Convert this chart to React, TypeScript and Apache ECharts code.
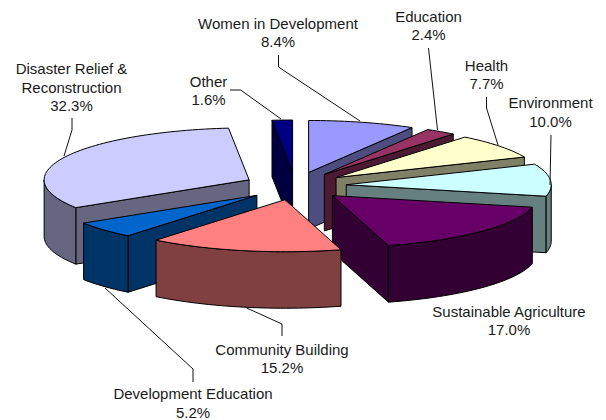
import React, { useEffect, useRef } from "react";
import * as echarts from "echarts";

// ---- data ----
const categories = [
  "Women in Development",
  "Education",
  "Health",
  "Environment",
  "Sustainable Agriculture",
  "Community Building",
  "Development Education",
  "Disaster Relief &\nReconstruction",
  "Other",
];
const shares = [8.4, 2.4, 7.7, 10.0, 17.0, 15.2, 5.2, 32.3, 1.6];

// ---- style ----
const topColors = ["#9999FF", "#993366", "#FFFFCC", "#CCFFFF", "#660066", "#FF8080", "#0066CC", "#CCCCFF", "#000080"];
const sideColors = ["#4D4D80", "#4D1A33", "#808066", "#668080", "#330033", "#804040", "#003366", "#666680", "#000040"];
const drawOrder = [8, 0, 1, 2, 3, 4, 7, 6, 5];

// ---- layout ----
const CX = 295.2;
const CY = 186;
const RX = 205;
const RY = 52;
const DEPTH = 56.5;
const EXPLODE_X = 51.25;
const EXPLODE_Y = 14;
const labelAnchors: number[][] = [
  [278, 32.5], [428.5, 25.5], [486.5, 74.5], [550.5, 112], [509, 320.5],
  [282, 358.5], [193, 403], [71.5, 87], [208.5, 90.5],
];
const leaders: number[][][] = [
  [[278.5, 55], [278.5, 67], [360, 121]],
  [[428.5, 48], [437.5, 130]],
  [[486.5, 97], [486.5, 108], [498, 145]],
  [[551, 135], [550, 185]],
  [],
  [[282, 336], [282, 324], [246.7, 308]],
  [[193, 382], [193, 369], [105, 288]],
  [[72, 118], [72, 130], [64, 156]],
  [[230, 90], [240.7, 90], [281, 119]],
];

const total = shares.reduce((a, b) => a + b, 0);
const toRad = (share: number) => (share / total) * Math.PI * 2;

function sliceChildren(i: number) {
  const before = shares.slice(0, i).reduce((a, b) => a + b, 0);
  const start = toRad(before);
  const end = start + toRad(shares[i]);
  const mid = (start + end) / 2;
  const ax = CX + EXPLODE_X * Math.sin(mid);
  const ay = CY - EXPLODE_Y * Math.cos(mid);
  const at = (t: number) => [ax + RX * Math.sin(t), ay - RY * Math.cos(t)];
  const down = (p: number[]) => [p[0], p[1] + DEPTH];
  const arc = (a: number, b: number) => {
    const n = Math.max(2, Math.ceil((b - a) / 0.03));
    const out: number[][] = [];
    for (let k = 0; k <= n; k++) out.push(at(a + ((b - a) * k) / n));
    return out;
  };
  const edge = { stroke: "#000", lineWidth: 1, lineJoin: "round" };
  const side = { ...edge, fill: sideColors[i] };
  const apex = [ax, ay];
  const children: any[] = [];
  const wall = (pts: number[][]) =>
    children.push({
      type: "polygon",
      shape: { points: [...pts, ...pts.slice().reverse().map(down)] },
      style: side,
    });
  // only the faces turned to the viewer
  if (Math.sin(start) < -1e-6) wall([apex, at(start)]);
  if (Math.sin(end) > 1e-6) wall([at(end), apex]);
  const a = Math.max(start, Math.PI / 2);
  const b = Math.min(end, (Math.PI * 3) / 2);
  if (b > a) wall(arc(a, b));
  children.push({
    type: "polygon",
    shape: { points: [apex, ...arc(start, end)] },
    style: { ...edge, fill: topColors[i] },
  });
  return children;
}

const seriesData = drawOrder.map((i) => ({ name: categories[i], value: [i, shares[i]] }));

export default function App() {
  const ref = useRef<HTMLDivElement>(null);
  useEffect(() => {
    const chart = echarts.init(ref.current!, undefined, { renderer: "svg" });
    chart.setOption({
      animation: false,
      backgroundColor: "#fff",
      graphic: [
        ...leaders
          .filter((l) => l.length)
          .map((points) => ({
            type: "polyline",
            z: 10,
            silent: true,
            shape: { points },
            style: { stroke: "#111", lineWidth: 1, fill: "none" },
          })),
        ...categories.map((c, i) => ({
          type: "text",
          z: 11,
          silent: true,
          x: labelAnchors[i][0],
          y: labelAnchors[i][1],
          style: {
            text: `${c}\n${shares[i].toFixed(1)}%`,
            font: '15px "Liberation Sans", Arial, sans-serif',
            lineHeight: 18.7,
            fill: "#1a1a1a",
            align: "center",
            verticalAlign: "middle",
          },
        })),
      ],
      series: [
        {
          type: "custom",
          coordinateSystem: "none",
          silent: true,
          data: seriesData,
          renderItem: (_p: any, api: any) => ({
            type: "group",
            children: sliceChildren(api.value(0)),
          }),
        },
      ],
    });
    return () => chart.dispose();
  }, []);
  return <div ref={ref} style={{ position: "absolute", left: 0, top: 0, width: 606, height: 420 }} />;
}
